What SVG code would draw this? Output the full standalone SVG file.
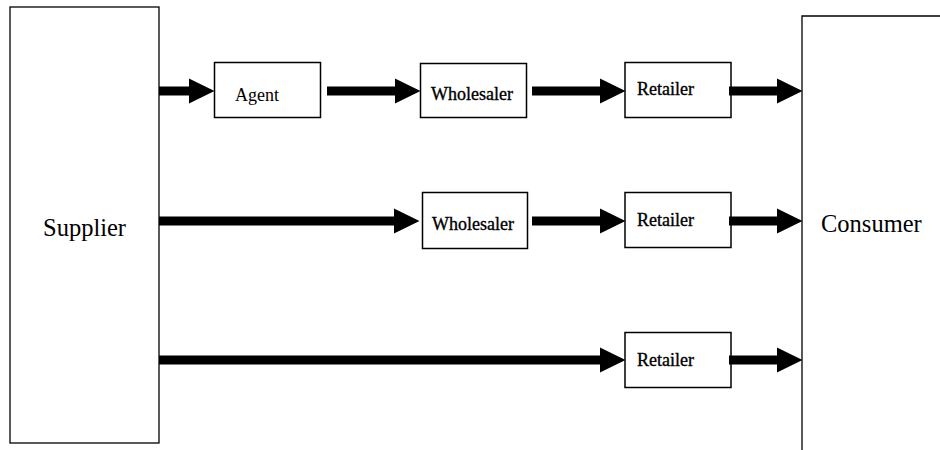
<svg xmlns="http://www.w3.org/2000/svg" width="940" height="450" viewBox="0 0 940 450">
<style>
.big{fill:#fff;stroke:#000;stroke-width:1.3}
.box{fill:#fff;stroke:#000;stroke-width:1.5}
.t{font-family:"Liberation Serif","Times New Roman",serif;fill:#000}
.lg{font-size:24.5px}
.sm{font-size:18px}
.b{stroke:#000;stroke-width:0.35}
.arr{stroke:#000;stroke-width:9;fill:none;marker-end:url(#ah)}
</style>
<defs>
<marker id="ah" markerUnits="userSpaceOnUse" markerWidth="26" markerHeight="26" refX="0" refY="12.5" orient="auto" overflow="visible">
<path d="M0,0 L25.5,12.5 L0,25 Z" fill="#000"/>
</marker>
</defs>
<g id="supplier"><rect class="big" x="10" y="7" width="149" height="436"/><text class="t lg" x="43" y="236">Supplier</text></g>
<g id="consumer"><path class="big" d="M802,452 V16 H942"/><text class="t lg" x="821" y="232">Consumer</text></g>
<g id="agent"><rect class="box" x="214.5" y="62.5" width="106" height="55"/><text class="t sm" x="235" y="101">Agent</text></g>
<g id="wholesaler1"><rect class="box" x="420.5" y="63.5" width="106" height="54"/><text class="t sm b" x="431" y="100">Wholesaler</text></g>
<g id="retailer1"><rect class="box" x="625" y="62.5" width="106" height="55"/><text class="t sm b" x="637" y="95">Retailer</text></g>
<g id="wholesaler2"><rect class="box" x="422.5" y="192.5" width="105" height="56"/><text class="t sm b" x="432" y="230">Wholesaler</text></g>
<g id="retailer2"><rect class="box" x="625" y="192.5" width="106" height="55"/><text class="t sm b" x="637" y="226">Retailer</text></g>
<g id="retailer3"><rect class="box" x="625" y="332.5" width="106" height="55"/><text class="t sm b" x="637" y="366">Retailer</text></g>
<g id="connectors">
<line class="arr" x1="159" y1="91" x2="189" y2="91"/>
<line class="arr" x1="327" y1="91" x2="395" y2="91"/>
<line class="arr" x1="532" y1="91" x2="600" y2="91"/>
<line class="arr" x1="729" y1="91" x2="777" y2="91"/>
<line class="arr" x1="159" y1="221" x2="394" y2="221"/>
<line class="arr" x1="532" y1="221" x2="600" y2="221"/>
<line class="arr" x1="729" y1="221" x2="777" y2="221"/>
<line class="arr" x1="159" y1="360" x2="600" y2="360"/>
<line class="arr" x1="729" y1="360" x2="777" y2="360"/>
</g>
</svg>
